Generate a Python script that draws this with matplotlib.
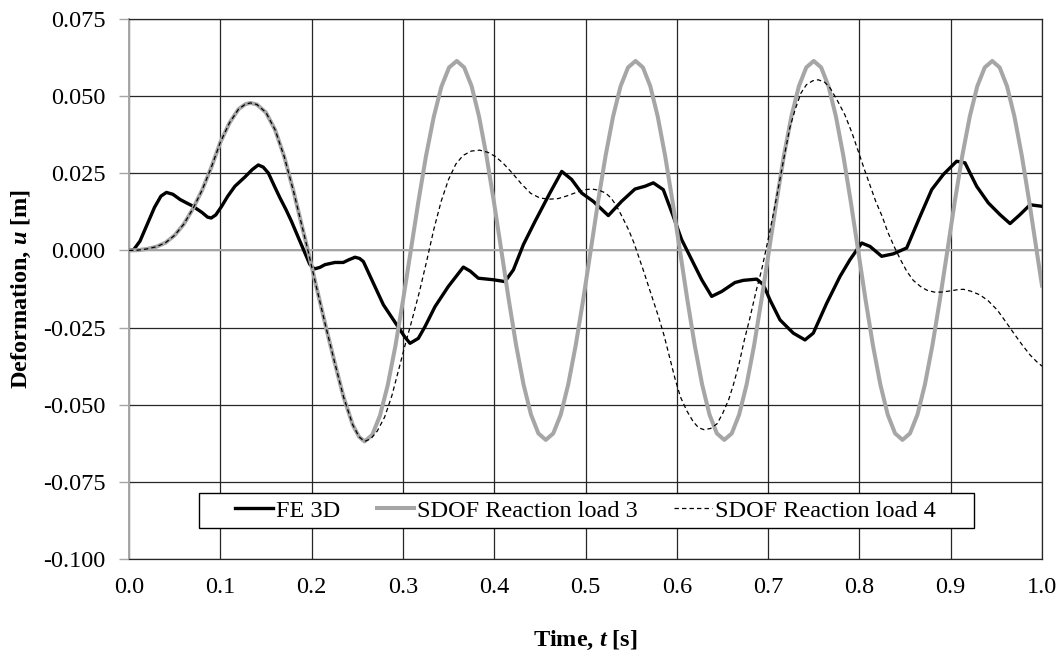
import matplotlib
matplotlib.use('Agg')
import matplotlib.pyplot as plt
from matplotlib.patches import Rectangle
from matplotlib.ticker import FormatStrFormatter

plt.rcParams['font.family'] = ['Liberation Serif', 'DejaVu Serif']
plt.rcParams['mathtext.fontset'] = 'custom'
plt.rcParams['mathtext.rm'] = 'Liberation Serif'
plt.rcParams['mathtext.bf'] = 'Liberation Serif:bold'
plt.rcParams['mathtext.it'] = 'Liberation Serif:italic'
plt.rcParams['mathtext.bfit'] = 'Liberation Serif:italic:bold'
plt.rcParams['axes.unicode_minus'] = False

# ── data ─────────────────────────────────────────────────────────────────────
fe_t = [0.000, 0.005, 0.012, 0.020, 0.028, 0.035, 0.041, 0.048, 0.056, 0.063,
        0.069, 0.080, 0.086, 0.090, 0.095, 0.1015, 0.108, 0.116, 0.127, 0.135,
        0.1416, 0.147, 0.1526, 0.159, 0.1654, 0.172, 0.178, 0.185, 0.1928, 0.198,
        0.203, 0.209, 0.2147, 0.2256, 0.2347, 0.241, 0.2476, 0.2525, 0.2567, 0.2659,
        0.2786, 0.2932, 0.302, 0.3078, 0.3169, 0.3242, 0.3352, 0.3497, 0.3662, 0.3737,
        0.3826, 0.3990, 0.4118, 0.4210, 0.4320, 0.4447, 0.4610, 0.4740, 0.4848, 0.4958,
        0.5085, 0.5250, 0.5395, 0.5542, 0.5652, 0.5743, 0.5852, 0.5962, 0.6053, 0.6163,
        0.6273, 0.6382, 0.6492, 0.6637, 0.6728, 0.6875, 0.6948, 0.7020, 0.7130, 0.7276,
        0.7404, 0.7495, 0.7642, 0.7788, 0.7897, 0.8025, 0.8116, 0.8244, 0.8372, 0.8518,
        0.8664, 0.8792, 0.8919, 0.9065, 0.9156, 0.9284, 0.9412, 0.9540, 0.9650, 0.9759,
        0.9869, 1.0000]
fe_u = [0.0000, 0.0002, 0.0030, 0.0085, 0.0140, 0.0176, 0.0188, 0.0182, 0.0165, 0.0154,
        0.0145, 0.0123, 0.0108, 0.0105, 0.0115, 0.0143, 0.0175, 0.0208, 0.0238, 0.0262,
        0.0277, 0.0270, 0.0251, 0.0210, 0.0170, 0.0132, 0.0094, 0.0045, -0.0009, -0.0045,
        -0.0060, -0.0055, -0.0046, -0.0039, -0.0039, -0.0030, -0.0022, -0.0026, -0.0036, -0.0095,
        -0.0176, -0.0241, -0.0280, -0.0301, -0.0285, -0.0247, -0.0182, -0.0117, -0.0054, -0.0067,
        -0.0090, -0.0095, -0.0101, -0.0063, 0.0019, 0.0094, 0.0186, 0.0256, 0.0230, 0.0186,
        0.0159, 0.0113, 0.0159, 0.0199, 0.0208, 0.0219, 0.0197, 0.0110, 0.0035, -0.0030,
        -0.0095, -0.0149, -0.0133, -0.0104, -0.0097, -0.0093, -0.0111, -0.0160, -0.0225, -0.0268,
        -0.0290, -0.0268, -0.0171, -0.0084, -0.0030, 0.0024, 0.0013, -0.0019, -0.0011, 0.0008,
        0.0110, 0.0197, 0.0246, 0.0289, 0.0284, 0.0208, 0.0154, 0.0116, 0.0087, 0.0116,
        0.0148, 0.0143]

# shared start of both SDOF curves (they coincide up to the first trough)
start_t = [0.000, 0.010, 0.020, 0.030, 0.040, 0.050, 0.060, 0.070, 0.080, 0.090,
           0.100, 0.110, 0.120, 0.1275, 0.133, 0.140, 0.150, 0.160, 0.170, 0.180,
           0.190, 0.196, 0.205, 0.215, 0.225, 0.235, 0.245, 0.252, 0.258]
start_u = [0.0000, 0.0001, 0.0005, 0.0012, 0.0025, 0.0049, 0.0085, 0.0135, 0.0195, 0.0268,
           0.0350, 0.0413, 0.0458, 0.0474, 0.0478, 0.0473, 0.0447, 0.0391, 0.0304, 0.0194,
           0.0072, 0.0000, -0.0115, -0.0240, -0.0360, -0.0475, -0.0565, -0.0604, -0.0619]

load3_t = start_t + [
    0.2664, 0.2748, 0.2833, 0.2917, 0.3001, 0.3085, 0.3169, 0.3253, 0.3338, 0.3422, 0.3506, 0.3590,
    0.3671, 0.3753, 0.3834, 0.3915, 0.3996, 0.4078, 0.4159, 0.4240, 0.4321, 0.4403, 0.4484, 0.4565,
    0.4647, 0.4729, 0.4811, 0.4893, 0.4975, 0.5057, 0.5138, 0.5220, 0.5302, 0.5384, 0.5466, 0.5548,
    0.5629, 0.5710, 0.5791, 0.5872, 0.5953, 0.6034, 0.6115, 0.6196, 0.6277, 0.6358, 0.6439, 0.6520,
    0.6602, 0.6683, 0.6765, 0.6847, 0.6928, 0.7010, 0.7092, 0.7173, 0.7255, 0.7337, 0.7418, 0.7500,
    0.7581, 0.7662, 0.7743, 0.7824, 0.7905, 0.7986, 0.8067, 0.8148, 0.8229, 0.8310, 0.8391, 0.8472,
    0.8554, 0.8636, 0.8718, 0.8800, 0.8882, 0.8964, 0.9045, 0.9127, 0.9209, 0.9291, 0.9373, 0.9455,
    0.9536, 0.9617, 0.9698, 0.9779, 0.9860, 0.9941, 1.0000]
load3_u = start_u + [
    -0.0598, -0.0536, -0.0438, -0.0311, -0.0162, -0.0003, 0.0157, 0.0306, 0.0433, 0.0531, 0.0593, 0.0614,
    0.0593, 0.0532, 0.0434, 0.0307, 0.0159, 0.0000, -0.0159, -0.0307, -0.0434, -0.0532, -0.0593, -0.0614,
    -0.0593, -0.0532, -0.0434, -0.0307, -0.0159, 0.0000, 0.0159, 0.0307, 0.0434, 0.0532, 0.0593, 0.0614,
    0.0593, 0.0532, 0.0434, 0.0307, 0.0159, 0.0000, -0.0159, -0.0307, -0.0434, -0.0532, -0.0593, -0.0614,
    -0.0593, -0.0532, -0.0434, -0.0307, -0.0159, 0.0000, 0.0159, 0.0307, 0.0434, 0.0532, 0.0593, 0.0614,
    0.0593, 0.0532, 0.0434, 0.0307, 0.0159, 0.0000, -0.0159, -0.0307, -0.0434, -0.0532, -0.0593, -0.0614,
    -0.0593, -0.0532, -0.0434, -0.0307, -0.0159, 0.0000, 0.0159, 0.0307, 0.0434, 0.0532, 0.0593, 0.0614,
    0.0593, 0.0532, 0.0434, 0.0307, 0.0159, 0.0000, -0.0114]

load4_t = start_t + [
    0.265, 0.272, 0.280, 0.288, 0.296, 0.303, 0.310, 0.318, 0.326, 0.334,
    0.342, 0.350, 0.358, 0.366, 0.375, 0.384, 0.393, 0.401, 0.410, 0.420,
    0.430, 0.440, 0.450, 0.460, 0.470, 0.480, 0.490, 0.500, 0.507, 0.515,
    0.522, 0.528, 0.534, 0.540, 0.547, 0.553, 0.558, 0.564, 0.569, 0.575,
    0.580, 0.586, 0.592, 0.598, 0.604, 0.611, 0.618, 0.624, 0.630, 0.637,
    0.644, 0.650, 0.657, 0.662, 0.668, 0.674, 0.680, 0.687, 0.693, 0.700,
    0.706, 0.712, 0.718, 0.724, 0.730, 0.736, 0.742, 0.749, 0.755, 0.762,
    0.768, 0.776, 0.784, 0.792, 0.800, 0.806, 0.812, 0.818, 0.825, 0.831,
    0.838, 0.845, 0.852, 0.859, 0.867, 0.874, 0.882, 0.890, 0.900, 0.908,
    0.914, 0.922, 0.932, 0.941, 0.951, 0.960, 0.969, 0.978, 0.987, 0.994, 1.000]
load4_u = start_u + [
    -0.0610, -0.0585, -0.0540, -0.0470, -0.0380, -0.0300, -0.0225, -0.0135, -0.0035, 0.0070,
    0.0160, 0.0230, 0.0280, 0.0308, 0.0322, 0.0325, 0.0318, 0.0305, 0.0282, 0.0250,
    0.0215, 0.0185, 0.0170, 0.0166, 0.0168, 0.0177, 0.0188, 0.0197, 0.0199, 0.0195,
    0.0186, 0.0170, 0.0144, 0.0110, 0.0068, 0.0025, -0.0018, -0.0070, -0.0116, -0.0170,
    -0.0215, -0.0275, -0.0345, -0.0415, -0.0475, -0.0520, -0.0555, -0.0575, -0.0581, -0.0577,
    -0.0562, -0.0530, -0.0482, -0.0435, -0.0370, -0.0290, -0.0220, -0.0130, -0.0062, 0.0035,
    0.0122, 0.0215, 0.0310, 0.0400, 0.0460, 0.0510, 0.0537, 0.0550, 0.0553, 0.0545,
    0.0526, 0.0485, 0.0440, 0.0380, 0.0310, 0.0258, 0.0208, 0.0158, 0.0110, 0.0060,
    0.0013, -0.0030, -0.0068, -0.0097, -0.0117, -0.0129, -0.0135, -0.0135, -0.0131, -0.0127,
    -0.0126, -0.0132, -0.0144, -0.0163, -0.0193, -0.0230, -0.0268, -0.0305, -0.0339, -0.0360, -0.0375]

x_ticks = [0.0, 0.1, 0.2, 0.3, 0.4, 0.5, 0.6, 0.7, 0.8, 0.9, 1.0]
y_ticks = [-0.100, -0.075, -0.050, -0.025, 0.000, 0.025, 0.050, 0.075]

GREY = '#A6A6A6'
GRID = '#262626'
FS = 17.5

fig = plt.figure(figsize=(10.61, 6.57), dpi=100)
ax = fig.add_axes([129 / 1061, 98 / 657, 913 / 1061, 540 / 657])

ax.plot(fe_t, fe_u, color='black', lw=2.4, label='FE 3D', zorder=3,
        solid_joinstyle='round')
ax.plot(load3_t, load3_u, color=GREY, lw=2.9, label='SDOF Reaction load 3', zorder=3,
        solid_joinstyle='round')
ax.plot(load4_t, load4_u, color='black', lw=0.9, ls=(0, (3.5, 2.5)),
        label='SDOF Reaction load 4', zorder=3)

ax.set_xlim(0, 1)
ax.set_ylim(-0.1, 0.075)
ax.set_xticks(x_ticks)
ax.set_yticks(y_ticks)
ax.xaxis.set_major_formatter(FormatStrFormatter('%.1f'))
ax.yaxis.set_major_formatter(FormatStrFormatter('%.3f'))
ax.grid(True, color=GRID, lw=0.9)
ax.set_axisbelow(True)
ax.axhline(0, color=GREY, lw=1.4, zorder=1.5)

for side in ['top', 'right', 'bottom']:
    ax.spines[side].set_color(GRID)
    ax.spines[side].set_linewidth(0.9)
ax.spines['left'].set_color(GREY)
ax.spines['left'].set_linewidth(1.4)

ax.tick_params(axis='y', direction='out', length=7, width=1, color=GREY,
               labelsize=FS, pad=10)
ax.tick_params(axis='x', length=0, labelsize=FS, pad=13)

ax.set_xlabel(r'Time, $\mathbfit{t}$ [s]', fontsize=FS, fontweight='bold')
ax.set_ylabel(r'Deformation, $\mathbfit{u}$ [m]', fontsize=FS, fontweight='bold')
ax.xaxis.set_label_coords(0.5, -0.13)
ax.yaxis.set_label_coords(-0.105, 0.5)

# legend box spans wider than its entries
ax.add_patch(Rectangle((0.0767, 0.0574), 0.8488, 0.0648, transform=ax.transAxes,
                       facecolor='white', edgecolor='black', lw=1.0, zorder=4.5))
ax.legend(loc='center', bbox_to_anchor=(0.5, 0.0898), ncol=3, frameon=False,
          fontsize=FS, handlelength=1.55, handletextpad=0.12, columnspacing=1.5,
          borderpad=0.1)

fig.savefig('out.png', dpi=100)
